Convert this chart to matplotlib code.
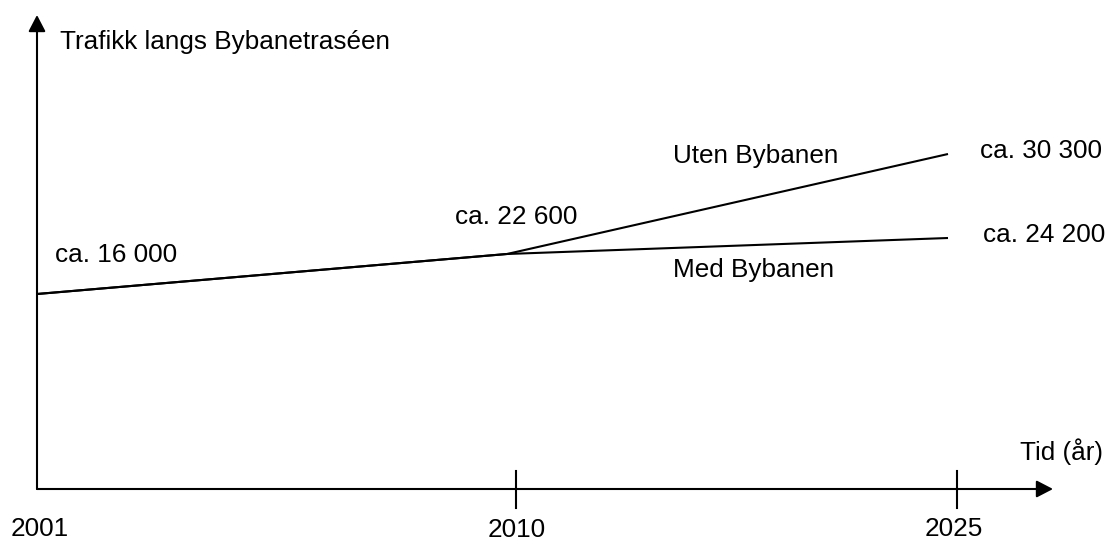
import matplotlib
matplotlib.use("Agg")
import matplotlib.pyplot as plt
import matplotlib.transforms as mtransforms
import numpy as np

W, H = 1108, 542

# data
years = [2001, 2010, 2025]
uten_bybanen = [16000, 22600, 30300]
med_bybanen = [16000, 22600, 24200]
series_names = ["Uten Bybanen", "Med Bybanen"]
tick_years = [2010, 2025]
y_title = "Trafikk langs Bybanetraséen"
x_title = "Tid (år)"

# schematic (non-linear) scales of the original drawing, in pixels from the axis corner
X_KNOTS = [2001, 2010, 2025, 2030]
X_PIX = [0, 470, 911, 1016]
Y_KNOTS = [0, 16000, 22600, 24200, 30300, 40000]
Y_PIX = [0, 195, 235, 251, 335, 474]

plt.rcParams['font.family'] = ['Liberation Sans', 'DejaVu Sans']
FS = 18.8


def fmt(v):
    return "ca. " + "{:,}".format(v).replace(",", " ")


def px_text(fig, x, y, s, ha="left"):
    fig.text(x / W, 1 - y / H, s, ha=ha, va="baseline", fontsize=FS, color="black")


def main():
    fig = plt.figure(figsize=(W / 100, H / 100), dpi=100)
    ax = fig.add_axes([37 / W, (H - 489) / H, 1016 / W, 474 / H])
    ax.set_xscale("function", functions=(lambda x: np.interp(x, X_KNOTS, X_PIX),
                                         lambda p: np.interp(p, X_PIX, X_KNOTS)))
    ax.set_yscale("function", functions=(lambda y: np.interp(y, Y_KNOTS, Y_PIX),
                                         lambda p: np.interp(p, Y_PIX, Y_KNOTS)))
    ax.set_xlim(2001, 2030)
    ax.set_ylim(0, 40000)
    for s in ax.spines.values():
        s.set_visible(False)
    ax.set_xticks([])
    ax.set_yticks([])
    ax.patch.set_alpha(0)

    # axes with arrow heads
    arrow = dict(arrowstyle="-|>,head_length=0.5,head_width=0.26", mutation_scale=20,
                 lw=1.5, color="black", shrinkA=0, shrinkB=0)
    ax.annotate("", xy=(1, 0), xytext=(0, 0), xycoords="axes fraction", arrowprops=arrow)
    ax.annotate("", xy=(0, 1), xytext=(0, 0), xycoords="axes fraction", arrowprops=arrow)

    # tick marks (drawn a little right of the line joints, as in the original)
    tick_tr = mtransforms.blended_transform_factory(ax.transData, ax.transAxes) + \
        mtransforms.ScaledTranslation(9 / 100, 0, fig.dpi_scale_trans)
    for yr in tick_years:
        ax.plot([yr, yr], [-19 / 474, 18 / 474], color="black", lw=1.5,
                transform=tick_tr, clip_on=False)

    ax.plot(years, uten_bybanen, color="black", lw=1.5, clip_on=False, solid_capstyle="butt")
    ax.plot(years, med_bybanen, color="black", lw=1.5, clip_on=False, solid_capstyle="butt")

    # texts
    px_text(fig, 60, 49, y_title)
    px_text(fig, 1020, 460, x_title)
    px_text(fig, 55, 262, fmt(uten_bybanen[0]))
    px_text(fig, 455, 224, fmt(uten_bybanen[1]))
    px_text(fig, 980, 158, fmt(uten_bybanen[2]))
    px_text(fig, 983, 242, fmt(med_bybanen[2]))
    px_text(fig, 673, 163, series_names[0])
    px_text(fig, 673, 277, series_names[1])
    px_text(fig, 40, 536, str(years[0]), ha="center")
    px_text(fig, 517, 537, str(tick_years[0]), ha="center")
    px_text(fig, 954, 536, str(tick_years[1]), ha="center")

    fig.savefig("out.png", dpi=100, facecolor="white")


if __name__ == "__main__":
    main()
